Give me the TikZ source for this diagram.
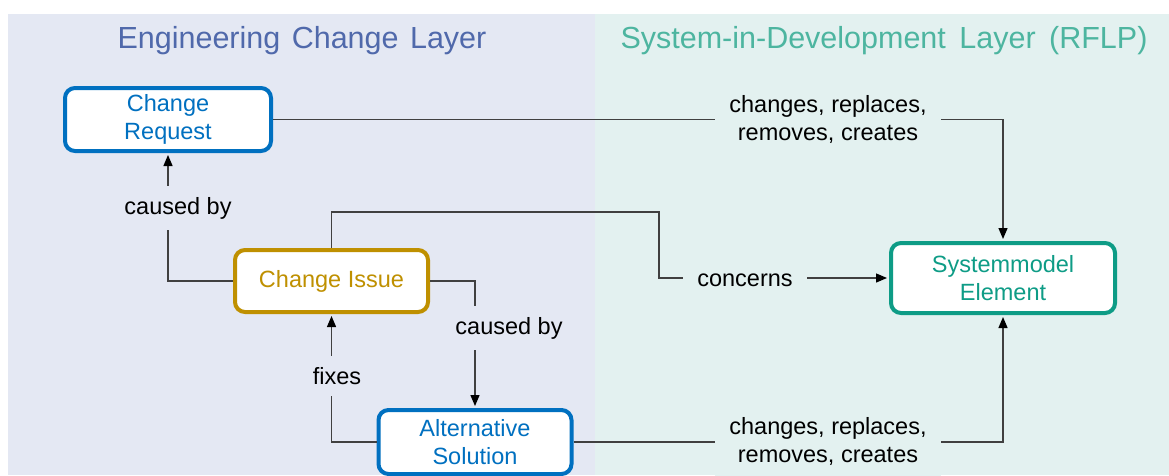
\documentclass[tikz,border=0pt]{standalone}
\usepackage{fontspec}
\setmainfont{Liberation Sans}
\usetikzlibrary{arrows.meta}
\definecolor{leftbg}{HTML}{E4E8F3}
\definecolor{rightbg}{HTML}{E3F1F0}
\definecolor{ectitle}{HTML}{5069AB}
\definecolor{sdtitle}{HTML}{4DB5A0}
\definecolor{crblue}{HTML}{0070C0}
\definecolor{cigold}{HTML}{BF9000}
\definecolor{smteal}{HTML}{0E9C86}
\definecolor{wire}{HTML}{404040}

\begin{document}
\begin{tikzpicture}[x=1pt,y=-1pt,
  box/.style={draw, line width=4pt, rounded corners=10pt, fill=white, align=center,
    font=\fontsize{23.5}{28}\selectfont, inner sep=0pt},
  conn/.style={draw=wire, line width=1.3pt, shorten >=2pt,
    -{Triangle[length=11pt,width=9pt,color=black]}},
  lbl/.style={font=\fontsize{23.5}{28}\selectfont, align=center,
    inner xsep=14pt, inner ysep=11pt, text=black},
  title/.style={font=\fontsize{30.5}{36}\selectfont}]

% page and the two layer panels
\useasboundingbox (0,0) rectangle (1169,475);
\fill[white] (0,0) rectangle (1169,475);
\fill[leftbg] (8,14) rectangle (595,475);
\fill[rightbg] (595,14) rectangle (1169,475);

\node[title, text=ectitle] (tl) at (302,41) {Engineering\hspace{3pt} Change\hspace{3pt} Layer};
\node[title, text=sdtitle] (tr) at (884,41) {System-in-Development\hspace{5pt} Layer\hspace{5pt} (RFLP)};

% elements
\node[box, draw=crblue, text=crblue, minimum width=206pt, minimum height=63pt]
  (cr) at (168,119.5) {Change\\Request};
\node[box, draw=cigold, text=cigold, minimum width=193pt, minimum height=62pt]
  (ci) at (331.5,281) {Change Issue};
\node[box, draw=crblue, text=crblue, minimum width=193pt, minimum height=64pt]
  (as) at (475,442) {Alternative\\Solution};
\node[box, draw=smteal, text=smteal, minimum width=224pt, minimum height=70pt]
  (se) at (1003,278) {Systemmodel\\Element};

\coordinate (up) at (659,212);

% relations
\draw[conn] (cr.east) -| (se.north);
\draw[conn] (ci.west) -| (cr.south);
\draw[conn] (ci.north) |- (up) |- (se.west);
\draw[conn] (ci.east) -| (as.north);
\draw[conn] (as.west) -| (ci.south);
\draw[conn] (as.east) -| (se.south);

% relation labels
\node[lbl, fill=rightbg] (l1) at (828,119) {changes, replaces,\\removes, creates};
\node[lbl, fill=leftbg] (l2) at (178,208) {caused by};
\node[lbl, fill=rightbg] (l3) at (745,280) {concerns};
\node[lbl, fill=leftbg] (l4) at (509,328) {caused by};
\node[lbl, fill=leftbg] (l5) at (337,376) {fixes};
\node[lbl, fill=rightbg] (l6) at (828,441) {changes, replaces,\\removes, creates};
\end{tikzpicture}
\end{document}
